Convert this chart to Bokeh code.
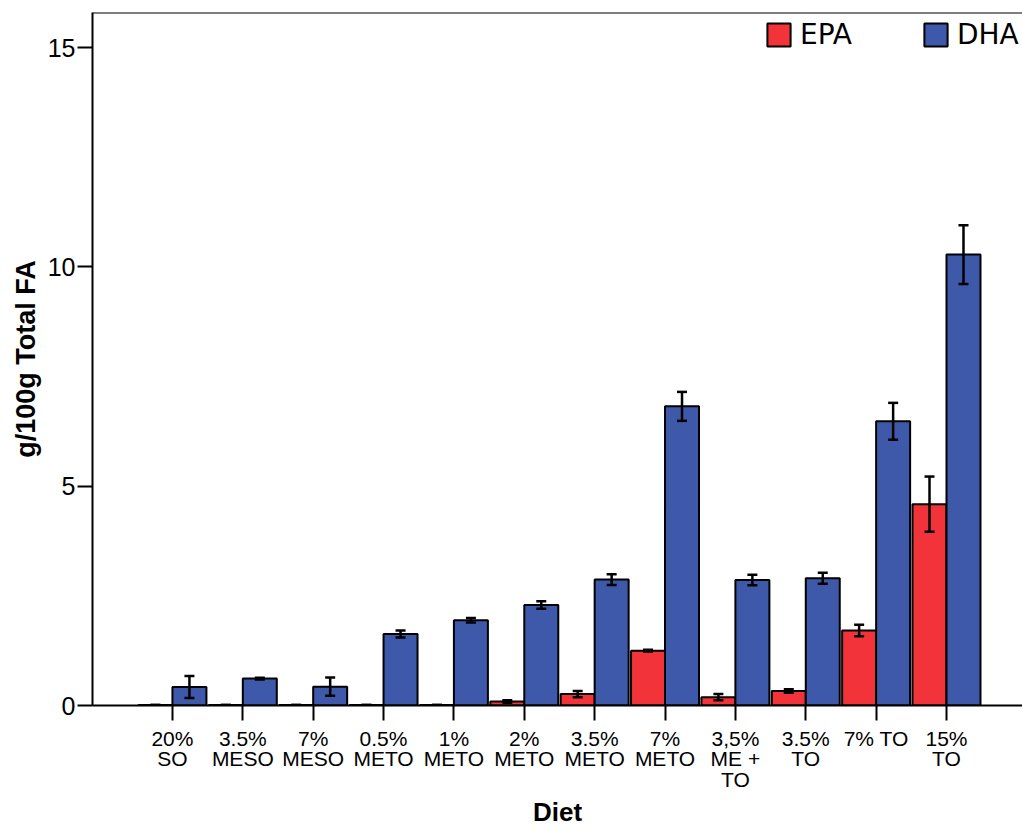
import numpy as np
from bokeh.plotting import figure
from bokeh.models import (Range1d, FixedTicker, Whisker, TeeHead, ColumnDataSource,
                          Legend, LegendItem, Span)
from bokeh.embed import file_html
from bokeh.resources import INLINE

# Diet groups and fatty-acid contents (g/100g total FA), mean and error
diets = ["20%\nSO", "3.5%\nMESO", "7%\nMESO", "0.5%\nMETO", "1%\nMETO", "2%\nMETO",
         "3.5%\nMETO", "7%\nMETO", "3,5%\nME +\nTO", "3.5%\nTO", "7% TO", "15%\nTO"]
epa = [0.01, 0.01, 0.01, 0.01, 0.01, 0.09, 0.26, 1.25, 0.19, 0.33, 1.71, 4.59]
epa_err = [0.0, 0.0, 0.0, 0.0, 0.0, 0.03, 0.07, 0.02, 0.07, 0.04, 0.13, 0.63]
dha = [0.42, 0.615, 0.43, 1.63, 1.945, 2.29, 2.87, 6.82, 2.86, 2.90, 6.48, 10.28]
dha_err = [0.25, 0.02, 0.21, 0.08, 0.05, 0.085, 0.12, 0.33, 0.12, 0.125, 0.42, 0.67]
y_ticks = [0, 5, 10, 15]

EPA_COLOR = "#F2333A"
DHA_COLOR = "#3E58AA"
FONT = "Liberation Sans"

idx = np.arange(len(diets))
bar_w = 0.483
off = bar_w / 2
X_START, X_END = -1.136, 12.08
Y_END = 15.8

epa_src = ColumnDataSource(dict(x=idx - off, top=epa,
                                lo=np.array(epa) - np.array(epa_err),
                                hi=np.array(epa) + np.array(epa_err)))
dha_src = ColumnDataSource(dict(x=idx + off, top=dha,
                                lo=np.array(dha) - np.array(dha_err),
                                hi=np.array(dha) + np.array(dha_err)))

p = figure(width=1022, height=829, output_backend="svg", toolbar_location=None,
           x_range=Range1d(X_START, X_END), y_range=Range1d(0, Y_END),
           min_border_left=92, min_border_right=0, min_border_top=12,
           min_border_bottom=0)
p.outline_line_color = None
p.grid.visible = False
p.background_fill_color = "white"
p.border_fill_color = "white"

r_epa = p.vbar(x="x", top="top", width=bar_w, source=epa_src,
               fill_color=EPA_COLOR, line_color="black", line_width=2)
r_dha = p.vbar(x="x", top="top", width=bar_w, source=dha_src,
               fill_color=DHA_COLOR, line_color="black", line_width=2)

# error bars drawn above the bars
for src in (epa_src, dha_src):
    w = Whisker(base="x", lower="lo", upper="hi", source=src, level="overlay",
                line_color="black", line_width=2.5,
                upper_head=TeeHead(size=10, line_color="black", line_width=2.5),
                lower_head=TeeHead(size=10, line_color="black", line_width=2.5))
    p.add_layout(w)

# top frame edge
p.add_layout(Span(location=Y_END, dimension="width", line_color="black", line_width=2))

# x axis
xa = p.xaxis[0]
xa.ticker = FixedTicker(ticks=list(idx))
xa.major_label_overrides = {int(i): d for i, d in zip(idx, diets)}
xa.minor_tick_line_color = None
xa.major_tick_out = 15
xa.major_tick_in = 0
xa.major_tick_line_width = 2
xa.axis_line_width = 2
xa.major_label_text_font = FONT
xa.major_label_text_font_size = "21px"
xa.major_label_text_color = "black"
xa.major_label_text_line_height = 0.9
xa.major_label_standoff = 6
xa.axis_label = "Diet"
xa.axis_label_text_font = FONT
xa.axis_label_text_font_size = "26px"
xa.axis_label_text_font_style = "bold"
xa.axis_label_text_color = "black"
xa.axis_label_standoff = 3

# y axis
ya = p.yaxis[0]
ya.ticker = FixedTicker(ticks=y_ticks)
ya.minor_tick_line_color = None
ya.major_tick_out = 15
ya.major_tick_in = 0
ya.major_tick_line_width = 2
ya.axis_line_width = 2
ya.major_label_text_font = FONT
ya.major_label_text_font_size = "25px"
ya.major_label_text_color = "black"
ya.major_label_standoff = 2
ya.axis_label = "g/100g Total FA"
ya.axis_label_text_font = FONT
ya.axis_label_text_font_size = "27px"
ya.axis_label_text_font_style = "bold"
ya.axis_label_text_color = "black"
ya.axis_label_standoff = 4

legend = Legend(items=[LegendItem(label="EPA", renderers=[r_epa]),
                       LegendItem(label="DHA", renderers=[r_dha])],
                orientation="horizontal", location=(672, 654),
                glyph_width=29, glyph_height=29, label_standoff=7, spacing=69,
                padding=0, margin=0, border_line_color=None,
                background_fill_alpha=0, label_text_font="DejaVu Sans",
                label_text_font_size="28px", label_text_color="black")
p.add_layout(legend)

open("out.html", "w").write(file_html(p, INLINE))
